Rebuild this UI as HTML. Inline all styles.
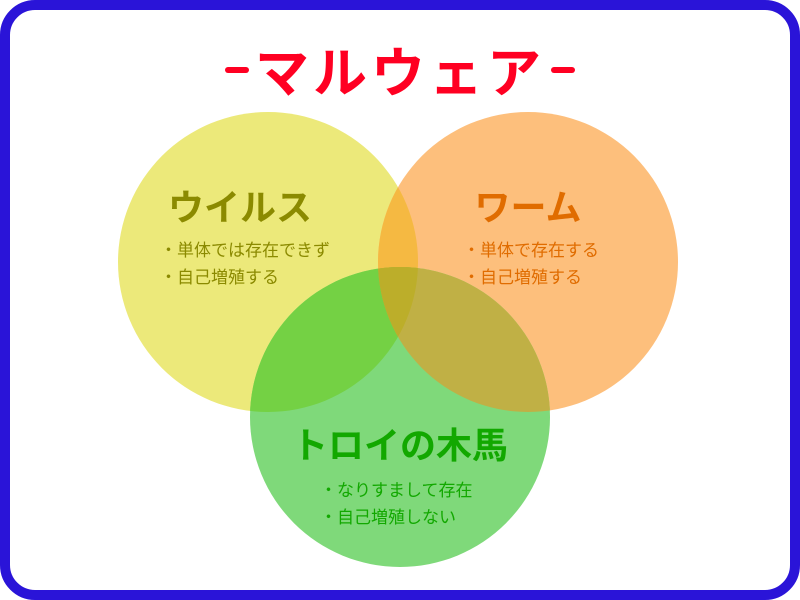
<!DOCTYPE html>
<html><head><meta charset="utf-8"><style>
html,body{margin:0;padding:0;background:#fff}
</style></head><body>
<svg width="800" height="600" xmlns="http://www.w3.org/2000/svg" style="display:block;font-family:'Liberation Sans','Noto Sans CJK JP',sans-serif">
<defs>
<clipPath id="cy"><circle cx="268" cy="262" r="150"/></clipPath>
<clipPath id="co"><circle cx="528" cy="262" r="150"/></clipPath>
<clipPath id="cg"><circle cx="400" cy="417" r="150"/></clipPath>
</defs>
<rect x="5" y="5" width="790" height="590" rx="30" fill="#fff" stroke="#2a14d8" stroke-width="10"/>
<line x1="228" y1="70" x2="246" y2="70" stroke="#ff0022" stroke-width="6" stroke-linecap="round"/>
<line x1="554" y1="70" x2="572" y2="70" stroke="#ff0022" stroke-width="6" stroke-linecap="round"/>
<text x="400" y="92" text-anchor="middle" font-size="54" font-weight="bold" fill="#ff0022" letter-spacing="4">マルウェア</text>
<circle cx="268" cy="262" r="150" fill="#ece97a"/>
<circle cx="528" cy="262" r="150" fill="#fdbf7c"/>
<circle cx="400" cy="417" r="150" fill="#7fd97a"/>
<g clip-path="url(#cy)">
<circle cx="528" cy="262" r="150" fill="#f5b942"/>
<circle cx="400" cy="417" r="150" fill="#74d144"/>
</g>
<g clip-path="url(#co)">
<circle cx="400" cy="417" r="150" fill="#c0b045"/>
</g>
<g clip-path="url(#cy)"><g clip-path="url(#co)"><circle cx="400" cy="417" r="150" fill="#bcae2a"/></g></g>
<text x="240" y="220" text-anchor="middle" font-size="36" font-weight="bold" fill="#8b8a00">ウイルス</text>
<text x="160" y="256" font-size="17" fill="#8b8a00">・単体では存在できず</text>
<text x="160" y="283" font-size="17" fill="#8b8a00">・自己増殖する</text>
<text x="528" y="220" text-anchor="middle" font-size="36" font-weight="bold" fill="#e06c00">ワーム</text>
<text x="463" y="256" font-size="17" fill="#e06c00">・単体で存在する</text>
<text x="463" y="283" font-size="17" fill="#e06c00">・自己増殖する</text>
<text x="400" y="458" text-anchor="middle" font-size="36" font-weight="bold" fill="#12a800">トロイの木馬</text>
<text x="320" y="496" font-size="17" fill="#12a800">・なりすまして存在</text>
<text x="320" y="523" font-size="17" fill="#12a800">・自己増殖しない</text>
</svg>
</body></html>
